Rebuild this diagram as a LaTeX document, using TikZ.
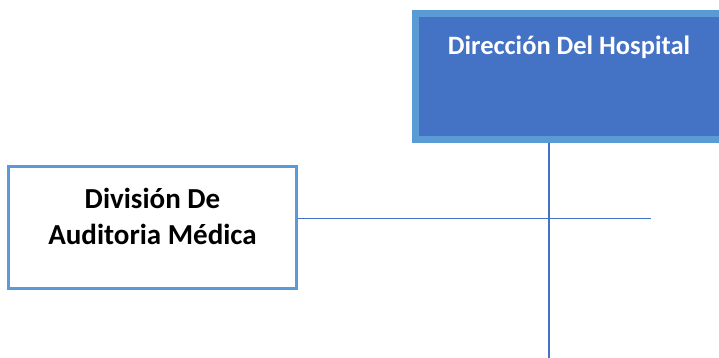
\documentclass[tikz,border=0pt]{standalone}
\usepackage{fontspec}
\setmainfont{Carlito}
\usepackage{tikz}
\usetikzlibrary{positioning}
\definecolor{orgfill}{HTML}{4472C4}
\definecolor{orgedge}{HTML}{5B9BD5}

\begin{document}
\begin{tikzpicture}[x=1pt,y=-1pt,
    head node/.style={rectangle,draw=orgedge,fill=orgfill,line width=7pt,inner sep=0pt,
      minimum width=307pt,minimum height=126pt,text=white,
      font=\fontsize{26.5}{31}\selectfont\bfseries,text height=18pt,text depth=61pt},
    unit node/.style={rectangle,draw=orgedge,fill=white,line width=2.5pt,inner sep=0pt,
      minimum width=288pt,minimum height=122pt,align=center,
      font=\fontsize{29}{36}\selectfont\bfseries,text height=55pt,text depth=22pt},
    link/.style={draw=orgfill,line width=1.3pt}]

  \useasboundingbox (0,0) rectangle (719,358);

  \node[head node]  (dir) at (569,76.5) {Dirección Del Hospital};
  \node[unit node]  (aud) at (152.5,227.5) {División De\\Auditoria Médica};

  \coordinate (vend) at (549,358);
  \coordinate (hend) at (651,218.5);

  \path (dir.south -| vend) edge[link] (vend)
        (aud.east |- hend)  edge[link] (hend);
\end{tikzpicture}
\end{document}
